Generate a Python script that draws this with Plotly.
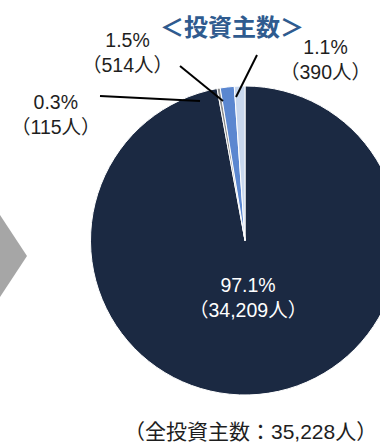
import plotly.graph_objects as go

# 投資主数の内訳（人）- order clockwise from 12 o'clock
categories = ["区分A", "区分B", "区分C", "区分D"]
holders = [34209, 115, 514, 390]
colors = ["#1B2942", "#8C8C8C", "#5B87D0", "#C9D8EE"]

W, H = 400, 442
total = sum(holders)


def px(x, y):
    return x / W, 1 - y / H


def label(i):
    return f"{holders[i] / total * 100:.1f}%<br>（{holders[i]:,}人）"


fig = go.Figure()
fig.add_trace(go.Pie(
    labels=categories, values=holders, sort=False,
    direction="clockwise", rotation=0,
    marker=dict(colors=colors, line=dict(color="white", width=1)),
    textinfo="none", hoverinfo="label+value",
    domain=dict(x=[90 / W, 400 / W], y=[(H - 395) / H, (H - 86) / H]),
    showlegend=False,
))

font = dict(family="Liberation Sans, Noto Sans CJK JP", size=19.5, color="#1E1E1E")
anns = []


def add_text(x, y, text, f):
    xx, yy = px(x, y)
    anns.append(dict(x=xx, y=yy, xref="paper", yref="paper", text=text,
                     xanchor="center", yanchor="middle", showarrow=False, font=f))


# label positions (pixel centres)
add_text(127, 52, label(2), font)
add_text(56, 115, label(1), font)
add_text(325, 60, label(3), font)
add_text(248, 297, label(0), dict(font, color="white"))
add_text(232, 25, "<b>＜投資主数＞</b>",
         dict(family="Noto Sans CJK JP", size=24, color="#2F5B8F"))
add_text(250, 431, f"（全投資主数：{total:,}人）", dict(font, size=21))

# leader lines
leaders = [((100, 96), (200, 101)), ((180, 66), (223, 101)), ((257, 55), (236, 97))]
shapes = []
for (x0, y0), (x1, y1) in leaders:
    a, b = px(x0, y0)
    c, d = px(x1, y1)
    shapes.append(dict(type="line", xref="paper", yref="paper", x0=a, y0=b, x1=c, y1=d,
                       line=dict(color="black", width=2)))
# gray chevron on the left
p = [px(0, 215), px(27, 256), px(0, 297)]
shapes.append(dict(type="path", xref="paper", yref="paper",
                   path=f"M {p[0][0]} {p[0][1]} L {p[1][0]} {p[1][1]} L {p[2][0]} {p[2][1]} Z",
                   fillcolor="#A6A6A6", line=dict(width=0)))

fig.update_layout(width=W, height=H, margin=dict(l=0, r=0, t=0, b=0),
                  paper_bgcolor="white", annotations=anns, shapes=shapes)

fig.write_html("out.html", config={"displayModeBar": False},
               post_script="document.body.style.margin='0';document.body.style.overflow='hidden';")
